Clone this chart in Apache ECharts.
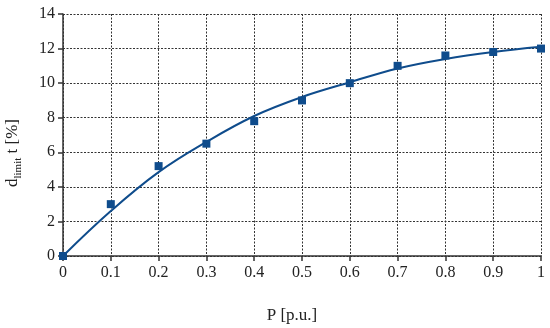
<!DOCTYPE html>
<html><head><meta charset="utf-8">
<script src="https://cdn.jsdelivr.net/npm/echarts@6/dist/echarts.min.js"></script>
<style>html,body{margin:0;padding:0;background:#fff}#c{width:550px;height:328px}</style>
</head><body><div id="c"></div>
<script>
var pValues = [0, 0.1, 0.2, 0.3, 0.4, 0.5, 0.6, 0.7, 0.8, 0.9, 1.0];
var measured = [0, 3.0, 5.2, 6.5, 7.8, 9.0, 10.0, 11.0, 11.6, 11.8, 12.0];
var fitted = [0, 2.6, 4.85, 6.6, 8.1, 9.2, 10.05, 10.85, 11.4, 11.8, 12.1];
var xTicks = ['0','0.1','0.2','0.3','0.4','0.5','0.6','0.7','0.8','0.9','1'];

var blue = '#0f4c8c';
var font = '"Liberation Serif", "DejaVu Serif", serif';
var chart = echarts.init(document.getElementById('c'), null, {renderer: 'canvas'});
chart.setOption({
  animation: false,
  grid: {left: 63, right: 9, top: 14, bottom: 72, containLabel: false, outerBoundsMode: 'none'},
  xAxis: {
    type: 'value', min: 0, max: 1, interval: 0.1,
    name: 'P [p.u.]', nameLocation: 'middle', nameGap: 51,
    nameTextStyle: {fontFamily: font, fontSize: 17, color: '#222', padding: [0, 20, 0, 0]},
    axisLine: {show: true, onZero: false, lineStyle: {color: '#333', width: 1.5}},
    axisTick: {show: true, length: 5, lineStyle: {color: '#333', width: 1.5}},
    axisLabel: {fontFamily: font, fontSize: 16, color: '#222', margin: 9,
      formatter: function (v) { var i = Math.round(v * 10); return xTicks[i]; }},
    splitLine: {show: true, lineStyle: {color: '#333', type: [2, 1.5], width: 1}}
  },
  yAxis: {
    type: 'value', min: 0, max: 14, interval: 2,
    name: '{d|d}{sub|limit}{d| t [%]}', nameLocation: 'middle', nameGap: 38,
    nameTextStyle: {fontFamily: font, color: '#222', padding: [0, 36, 0, 0],
      rich: {
        d: {fontFamily: font, fontSize: 17, color: '#222', lineHeight: 24},
        sub: {fontFamily: font, fontSize: 11, color: '#222', lineHeight: 24, padding: [10, 0, 0, 0]}
      }},
    axisLine: {show: true, onZero: false, lineStyle: {color: '#333', width: 1.5}},
    axisTick: {show: true, length: 5, lineStyle: {color: '#333', width: 1.5}},
    axisLabel: {fontFamily: font, fontSize: 16, color: '#222', margin: 8},
    splitLine: {show: true, lineStyle: {color: '#333', type: [2, 1.5], width: 1}}
  },
  series: [
    {
      type: 'line', name: 'fit', smooth: 0.4, symbol: 'none',
      data: pValues.map(function (p, i) { return [p, fitted[i]]; }),
      lineStyle: {color: blue, width: 2}, z: 2
    },
    {
      type: 'scatter', name: 'measured', symbol: 'rect', symbolSize: 8,
      data: pValues.map(function (p, i) { return [p, measured[i]]; }),
      itemStyle: {color: blue, opacity: 1}, z: 3
    }
  ]
});
</script></body></html>
